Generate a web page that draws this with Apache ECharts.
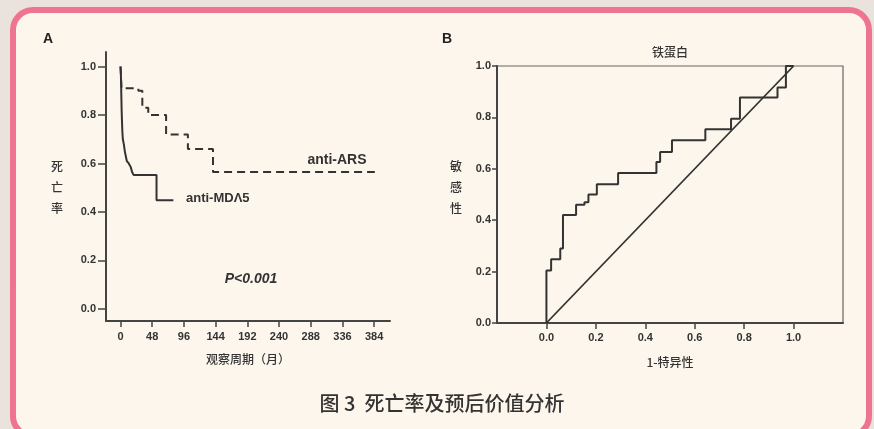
<!DOCTYPE html>
<html>
<head>
<meta charset="utf-8">
<script src="https://cdn.jsdelivr.net/npm/echarts@6/dist/echarts.min.js"></script>
<style>
  html, body { margin: 0; padding: 0; }
  #chart { width: 874px; height: 429px; }
</style>
</head>
<body>
<div id="chart"></div>
<script>
// Panel A: Kaplan-Meier style curves (time in months, probability)
const mda5Time = [0, 0.5, 0.8, 1, 1.3, 1.6, 2, 2.4, 2.8, 3.5, 5, 6.5, 8, 9.5, 12.5, 15.5, 17.5, 20, 54.5, 80];
const mda5Prob = [1.0, 0.97, 0.94, 0.91, 0.87, 0.83, 0.79, 0.76, 0.73, 0.70, 0.68, 0.65, 0.63, 0.61, 0.60, 0.585, 0.565, 0.552, 0.448, 0.448];
const arsTime = [0, 1.5, 27, 33, 42, 69, 102, 140, 385];
const arsProb = [1.0, 0.91, 0.90, 0.83, 0.80, 0.72, 0.66, 0.565, 0.565];
const monthTicks = [0, 48, 96, 144, 192, 240, 288, 336, 384];
const probTicks = [0, 0.2, 0.4, 0.6, 0.8, 1.0];

// Panel B: ROC curve for ferritin (1 - specificity, sensitivity)
const rocFpr = [0, 0.019, 0.056, 0.067, 0.12, 0.154, 0.17, 0.204, 0.29, 0.445, 0.46, 0.508, 0.643, 0.747, 0.783, 0.935, 0.969, 1.0];
const rocTpr = [0, 0.204, 0.248, 0.29, 0.42, 0.46, 0.47, 0.50, 0.54, 0.584, 0.626, 0.665, 0.711, 0.754, 0.795, 0.877, 0.916, 1.0];
const refLine = [0, 1];
const rocTicks = [0, 0.2, 0.4, 0.6, 0.8, 1.0];

const zip = (a, b) => a.map((v, i) => [v, b[i]]);

const LATIN = "'Liberation Sans', Arial, 'Noto Sans CJK SC', sans-serif";
const CJK = "'Noto Sans CJK SC', 'Liberation Sans', sans-serif";
const INK = '#333333';

function valueAxis(opts) {
  return Object.assign({
    type: 'value',
    splitLine: { show: false },
    axisLine: { show: true, onZero: false, lineStyle: { color: '#444', width: 2 } },
    axisTick: { show: true, length: 6, lineStyle: { color: '#444', width: 1.5 } },
    axisLabel: {
      fontSize: 11, fontWeight: 'bold', color: '#333', fontFamily: LATIN,
      formatter: v => v.toFixed(1)
    }
  }, opts);
}

const chart = echarts.init(document.getElementById('chart'), null, { renderer: 'canvas' });

const option = {
  backgroundColor: '#eae2dd',
  animation: false,
  grid: [
    { left: 106, top: 52, width: 284, height: 269 },
    { left: 497, top: 66, width: 346, height: 257, show: true, borderColor: '#666', borderWidth: 1.2 }
  ],
  xAxis: [
    valueAxis({
      gridIndex: 0, min: -22, max: 408,
      axisTick: { show: true, length: 6, customValues: monthTicks, lineStyle: { color: '#444', width: 1.5 } },
      axisLabel: { customValues: monthTicks, margin: 10, fontSize: 11, fontWeight: 'bold', color: '#333', fontFamily: LATIN },
      name: '观察周期（月）', nameLocation: 'middle', nameGap: 32,
      nameTextStyle: { fontSize: 12, color: INK, fontFamily: CJK, fontWeight: 500 }
    }),
    valueAxis({
      gridIndex: 1, min: -0.2, max: 1.2,
      axisTick: { show: true, length: 6, customValues: rocTicks, lineStyle: { color: '#444', width: 1.5 } },
      axisLabel: { customValues: rocTicks, margin: 9, fontSize: 11, fontWeight: 'bold', color: '#333', fontFamily: LATIN, formatter: v => v.toFixed(1) },
      name: '1-特异性', nameLocation: 'middle', nameGap: 33,
      nameTextStyle: { fontSize: 12, color: INK, fontFamily: CJK, fontWeight: 500 }
    })
  ],
  yAxis: [
    valueAxis({
      gridIndex: 0, min: -0.05, max: 1.06,
      axisTick: { show: true, length: 8, customValues: probTicks, lineStyle: { color: '#444', width: 1.5 } },
      axisLabel: { customValues: probTicks, margin: 10, fontSize: 11, fontWeight: 'bold', color: '#333', fontFamily: LATIN, formatter: v => v.toFixed(1) }
    }),
    valueAxis({
      gridIndex: 1, min: 0, max: 1,
      axisTick: { show: true, length: 5, customValues: probTicks, lineStyle: { color: '#444', width: 1.5 } },
      axisLabel: { customValues: probTicks, margin: 6, fontSize: 11, fontWeight: 'bold', color: '#333', fontFamily: LATIN, formatter: v => v.toFixed(1) }
    })
  ],
  series: [
    {
      name: 'anti-ARS', type: 'line', xAxisIndex: 0, yAxisIndex: 0,
      data: zip(arsTime, arsProb), step: 'end', symbol: 'none',
      lineStyle: { color: INK, width: 2, type: [8, 5] }
    },
    {
      name: 'anti-MDA5', type: 'line', xAxisIndex: 0, yAxisIndex: 0,
      data: zip(mda5Time, mda5Prob), step: 'end', symbol: 'none',
      lineStyle: { color: INK, width: 2 }
    },
    {
      name: 'reference', type: 'line', xAxisIndex: 1, yAxisIndex: 1,
      data: zip(refLine, refLine), symbol: 'none',
      lineStyle: { color: '#333', width: 1.8 }
    },
    {
      name: '铁蛋白', type: 'line', xAxisIndex: 1, yAxisIndex: 1,
      data: zip(rocFpr, rocTpr), step: 'start', symbol: 'none',
      lineStyle: { color: INK, width: 2 }
    }
  ],
  graphic: [
    {
      type: 'rect', z: -10, silent: true,
      shape: { x: 13, y: 10, width: 856, height: 426, r: 20 },
      style: { fill: '#fdf6ec', stroke: '#ef7491', lineWidth: 6 }
    },
    { type: 'text', x: 48, y: 39, style: { text: 'A', font: "bold 14px " + LATIN, fill: '#222', align: 'center', verticalAlign: 'middle' } },
    { type: 'text', x: 447, y: 39, style: { text: 'B', font: "bold 14px " + LATIN, fill: '#222', align: 'center', verticalAlign: 'middle' } },
    { type: 'text', x: 57, y: 187, style: { text: '死\n亡\n率', font: "500 12px " + CJK, lineHeight: 21, fill: INK, align: 'center', verticalAlign: 'middle' } },
    { type: 'text', x: 456, y: 187, style: { text: '敏\n感\n性', font: "500 12px " + CJK, lineHeight: 21, fill: INK, align: 'center', verticalAlign: 'middle' } },
    { type: 'text', x: 670, y: 52, style: { text: '铁蛋白', font: "500 12px " + CJK, fill: INK, align: 'center', verticalAlign: 'middle' } },
    { type: 'text', x: 337, y: 160, style: { text: 'anti-ARS', font: "bold 14px " + LATIN, fill: INK, align: 'center', verticalAlign: 'middle' } },
    { type: 'text', x: 186, y: 198, style: { text: 'anti-MDΛ5', font: "bold 13px " + LATIN, fill: INK, align: 'left', verticalAlign: 'middle' } },
    { type: 'text', x: 251, y: 279, style: { text: 'P<0.001', font: "italic bold 14px " + LATIN, fill: INK, align: 'center', verticalAlign: 'middle' } },
    { type: 'text', x: 442, y: 403, style: { text: '图 3  死亡率及预后价值分析', font: "500 20px " + CJK, fill: '#333', align: 'center', verticalAlign: 'middle' } }
  ]
};

chart.setOption(option);
</script>
</body>
</html>
